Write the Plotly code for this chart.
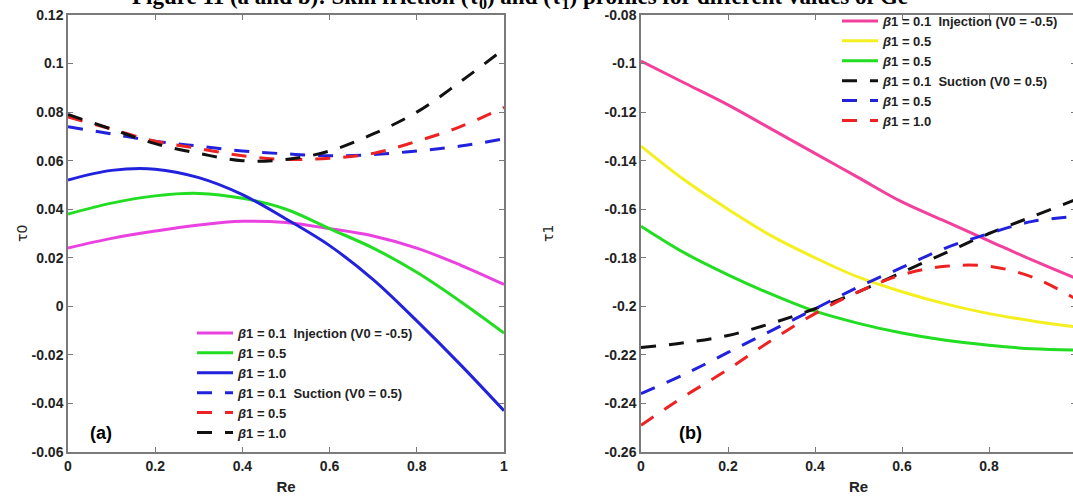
import plotly.graph_objects as go

# ---------------- data ----------------
re_vals = [0.0, 0.1, 0.2, 0.3, 0.4, 0.5, 0.6, 0.7, 0.8, 0.9, 1.0]

# panel (a): tau0
tau0_inj_b01 = [0.024, 0.028, 0.031, 0.0335, 0.035, 0.0345, 0.032, 0.029, 0.024, 0.017, 0.009]
tau0_inj_b05 = [0.038, 0.0425, 0.0455, 0.0465, 0.0445, 0.040, 0.032, 0.024, 0.014, 0.002, -0.011]
tau0_inj_b10 = [0.052, 0.056, 0.0565, 0.053, 0.046, 0.036, 0.025, 0.011, -0.006, -0.024, -0.043]
tau0_suc_b01 = [0.074, 0.071, 0.068, 0.066, 0.064, 0.0628, 0.062, 0.0625, 0.064, 0.066, 0.069]
tau0_suc_b05 = [0.078, 0.073, 0.068, 0.065, 0.062, 0.0605, 0.061, 0.063, 0.068, 0.074, 0.082]
tau0_suc_b10 = [0.079, 0.073, 0.067, 0.063, 0.060, 0.0605, 0.064, 0.071, 0.080, 0.0925, 0.106]

# panel (b): tau1
tau1_inj_b01 = [-0.099, -0.108, -0.117, -0.127, -0.137, -0.147, -0.157, -0.165, -0.173, -0.181, -0.1885]
tau1_inj_b05 = [-0.134, -0.148, -0.160, -0.171, -0.180, -0.188, -0.194, -0.199, -0.203, -0.206, -0.2085]
tau1_inj_b05b = [-0.167, -0.178, -0.187, -0.195, -0.202, -0.207, -0.211, -0.214, -0.216, -0.2175, -0.218]
tau1_suc_b01 = [-0.217, -0.215, -0.212, -0.207, -0.201, -0.194, -0.186, -0.178, -0.170, -0.163, -0.156]
tau1_suc_b05 = [-0.236, -0.228, -0.219, -0.210, -0.201, -0.192, -0.184, -0.176, -0.170, -0.165, -0.163]
tau1_suc_b10 = [-0.249, -0.237, -0.226, -0.214, -0.203, -0.194, -0.187, -0.1835, -0.1835, -0.188, -0.197]

x_tickvals = [0, 0.2, 0.4, 0.6, 0.8, 1.0]
x_ticktext = ["0", "0.2", "0.4", "0.6", "0.8", "1"]
y1_tickvals = [-0.06, -0.04, -0.02, 0, 0.02, 0.04, 0.06, 0.08, 0.1, 0.12]
y1_ticktext = ["-0.06", "-0.04", "-0.02", "0", "0.02", "0.04", "0.06", "0.08", "0.1", "0.12"]
y2_tickvals = [-0.26, -0.24, -0.22, -0.2, -0.18, -0.16, -0.14, -0.12, -0.1, -0.08]
y2_ticktext = ["-0.26", "-0.24", "-0.22", "-0.2", "-0.18", "-0.16", "-0.14", "-0.12", "-0.1", "-0.08"]

labels_a = ["<i>β</i>1 = 0.1\u00a0\u00a0Injection (V0 = -0.5)", "<i>β</i>1 = 0.5", "<i>β</i>1 = 1.0",
            "<i>β</i>1 = 0.1\u00a0\u00a0Suction (V0 = 0.5)", "<i>β</i>1 = 0.5", "<i>β</i>1 = 1.0"]
labels_b = ["<i>β</i>1 = 0.1\u00a0\u00a0Injection (V0 = -0.5)", "<i>β</i>1 = 0.5", "<i>β</i>1 = 0.5",
            "<i>β</i>1 = 0.1\u00a0\u00a0Suction (V0 = 0.5)", "<i>β</i>1 = 0.5", "<i>β</i>1 = 1.0"]

title_text = ("Figure 11 (a and b): Skin friction (τ<sub>0</sub>) and (τ<sub>1</sub>) "
              "profiles for different values of Ge")

# ---------------- layout geometry ----------------
W, H = 1080, 497
MT, MB = 15, 45
PH = H - MT - MB
BOTTOM = H - MB


def px_x(p):
    return p / W


def px_y(p):
    return (BOTTOM - p) / PH


PINK_A = "#ea42e0"
PINK_B = "#f2409c"
GREEN = "#22dd22"
BLUE = "#2222dd"
RED = "#ee2222"
BLACK = "#111111"
YELLOW = "#f4f020"
DASH = "15px,13px"
LW = 3

fig = go.Figure()

series_a = [
    (tau0_inj_b01, PINK_A, "solid"), (tau0_inj_b05, GREEN, "solid"), (tau0_inj_b10, BLUE, "solid"),
    (tau0_suc_b01, BLUE, DASH), (tau0_suc_b05, RED, DASH), (tau0_suc_b10, BLACK, DASH),
]
for (ys, col, dash), lab in zip(series_a, labels_a):
    fig.add_trace(go.Scatter(x=re_vals, y=ys, mode="lines", name=lab,
                             line=dict(color=col, width=LW, dash=dash, shape="spline"),
                             xaxis="x", yaxis="y", legend="legend"))

series_b = [
    (tau1_inj_b01, PINK_B, "solid"), (tau1_inj_b05, YELLOW, "solid"), (tau1_inj_b05b, GREEN, "solid"),
    (tau1_suc_b01, BLACK, DASH), (tau1_suc_b05, BLUE, DASH), (tau1_suc_b10, RED, DASH),
]
for (ys, col, dash), lab in zip(series_b, labels_b):
    fig.add_trace(go.Scatter(x=re_vals, y=ys, mode="lines", name=lab,
                             line=dict(color=col, width=LW, dash=dash, shape="spline"),
                             xaxis="x2", yaxis="y2", legend="legend2"))

FRAME = "#7a7a7a"
TICKFONT = dict(family="Liberation Sans, Arial, sans-serif", size=14, color="#222222", weight="bold")
common_x = dict(range=[0, 1], tickmode="array", tickvals=x_tickvals, ticktext=x_ticktext,
                ticks="inside", ticklen=5, tickcolor=FRAME, tickwidth=1,
                showline=True, linecolor=FRAME, linewidth=1.5, mirror="ticks",
                showgrid=False, zeroline=False, tickfont=TICKFONT,
                title=dict(text="Re", font=dict(family="Liberation Sans, Arial", size=15,
                                                 color="#222222", weight="bold"), standoff=9),
                automargin=False)
common_y = dict(ticks="inside", ticklen=5, tickcolor=FRAME, tickwidth=1,
                showline=True, linecolor=FRAME, linewidth=1.5, mirror="ticks",
                showgrid=False, zeroline=False, tickfont=TICKFONT, tickmode="array",
                automargin=False)

LEGFONT = dict(family="Liberation Sans, Arial", size=13, color="#222222", weight="bold")

fig.update_layout(
    width=W, height=H,
    margin=dict(l=0, r=0, t=MT, b=MB),
    paper_bgcolor="white", plot_bgcolor="white",
    xaxis=dict(domain=[px_x(68), px_x(504)], anchor="y", **common_x),
    yaxis=dict(domain=[0, 1], anchor="x", range=[-0.06, 0.12],
               tickvals=y1_tickvals, ticktext=y1_ticktext, **common_y),
    xaxis2=dict(domain=[px_x(641), px_x(1076)], anchor="y2", **common_x),
    yaxis2=dict(domain=[0, 1], anchor="x2", range=[-0.26, -0.08],
                tickvals=y2_tickvals, ticktext=y2_ticktext, **common_y),
    legend=dict(x=px_x(192), y=px_y(318), xanchor="left", yanchor="top",
                bgcolor="rgba(0,0,0,0)", borderwidth=0, itemwidth=36,
                font=LEGFONT, tracegroupgap=0),
    legend2=dict(x=px_x(837), y=px_y(6), xanchor="left", yanchor="top",
                 bgcolor="rgba(0,0,0,0)", borderwidth=0, itemwidth=36,
                 font=LEGFONT, tracegroupgap=0),
    showlegend=True,
)

annots = [
    dict(text=title_text, x=px_x(520), y=px_y(14), xanchor="center", yanchor="bottom",
         font=dict(family="Liberation Serif, Times New Roman, serif", size=23, color="black", weight="bold")),
    dict(text="τ0", x=px_x(22), y=px_y(234), textangle=-90, xanchor="center", yanchor="middle",
         font=dict(family="DejaVu Sans, Arial", size=14, color="#222222")),
    dict(text="τ1", x=px_x(548), y=px_y(234), textangle=-90, xanchor="center", yanchor="middle",
         font=dict(family="DejaVu Sans, Arial", size=14, color="#222222")),
    dict(text="(a)", x=px_x(101), y=px_y(433), xanchor="center", yanchor="middle",
         font=dict(family="Liberation Sans, Arial", size=18, color="black", weight="bold")),
    dict(text="(b)", x=px_x(690), y=px_y(433), xanchor="center", yanchor="middle",
         font=dict(family="Liberation Sans, Arial", size=18, color="black", weight="bold")),
]
for a in annots:
    fig.add_annotation(xref="paper", yref="paper", showarrow=False, **a)

fig.write_html("out.html", config={"displayModeBar": False},
               post_script="document.body.style.margin='0';document.body.style.overflow='hidden';")
